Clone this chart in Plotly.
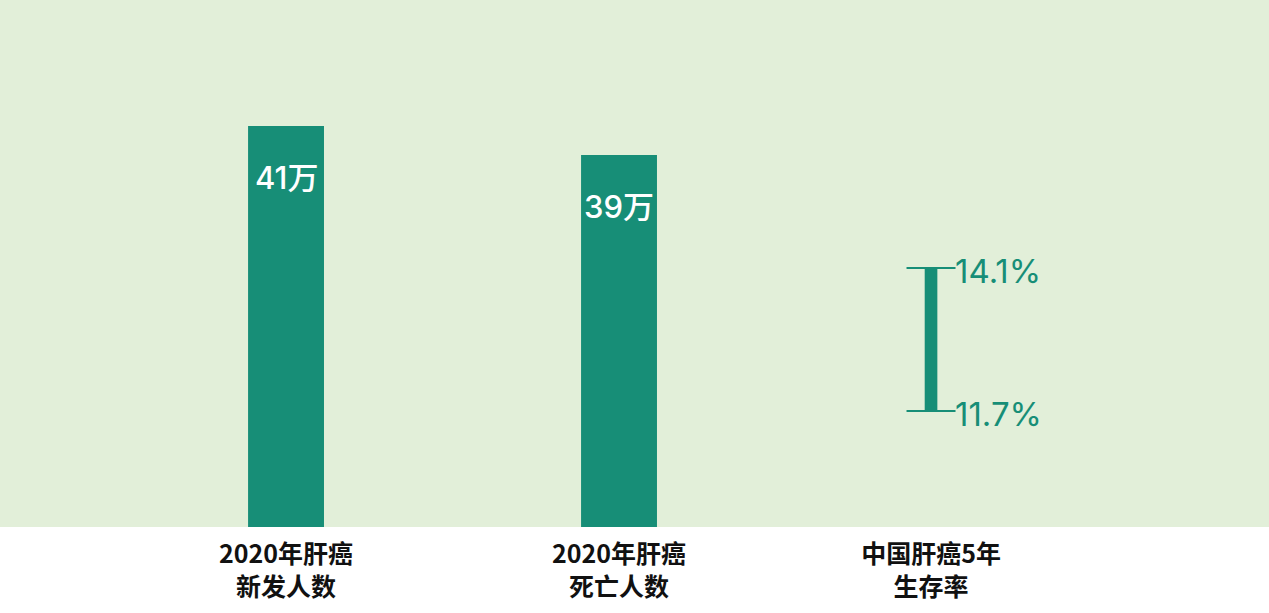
import plotly.graph_objects as go

# bar categories and values (万人)
categories = ["2020年肝癌<br>新发人数", "2020年肝癌<br>死亡人数"]
values = [41, 39]
value_labels = ["41万", "39万"]

# 5-year survival range (%)
survival_category = ["中国肝癌5年<br>生存率"]
survival_low = [11.7]
survival_high = [14.1]

GREEN = "#178e77"
BG = "#e2efd9"
FONT = "Noto Sans CJK SC"
NUM_FONT = "Inter, Noto Sans CJK SC"

fig = go.Figure()

# main bars
fig.add_trace(go.Bar(
    x=categories, y=values,
    marker=dict(color=GREEN, line=dict(width=0)),
    width=0.228,
    xaxis="x", yaxis="y",
    hoverinfo="skip",
))

for cat, val, lab in zip(categories, values, value_labels):
    fig.add_annotation(
        x=cat, y=val, xref="x", yref="y", text=lab, showarrow=False,
        yshift=-52, font=dict(family=NUM_FONT, size=31, color="white", weight=500),
    )

# survival range: thick bar from low to high
fig.add_trace(go.Bar(
    x=survival_category,
    y=[h - l for h, l in zip(survival_high, survival_low)],
    base=survival_low,
    marker=dict(color=GREEN, line=dict(width=0)),
    width=0.038,
    xaxis="x2", yaxis="y2",
    hoverinfo="skip",
))

# caps at both ends
cap_y = survival_high + survival_low
fig.add_trace(go.Scatter(
    x=survival_category * 2, y=cap_y,
    mode="markers",
    marker=dict(symbol="line-ew", size=35, line=dict(color=GREEN, width=2)),
    xaxis="x2", yaxis="y2",
    hoverinfo="skip",
))

for v in cap_y:
    fig.add_annotation(
        x=survival_category[0], y=v, xref="x2", yref="y2", text=f"{v}%",
        showarrow=False, xanchor="left", xshift=22, yshift=-3,
        font=dict(family=NUM_FONT, size=33, color=GREEN, weight=400),
    )

tick_font = dict(family=FONT, size=25, color="#111111", weight="bold")

fig.update_layout(
    width=1269, height=613,
    margin=dict(l=0, r=0, t=0, b=86),
    paper_bgcolor="white",
    plot_bgcolor=BG,
    showlegend=False,
    font=dict(family=FONT, size=24, color="black"),
    xaxis=dict(
        type="category", range=[-0.859, 2.952],
        showgrid=False, zeroline=False, showline=False, ticks="",
        tickfont=tick_font, ticklabelstandoff=10,
    ),
    xaxis2=dict(
        type="category", overlaying="x", range=[-2.796, 1.015],
        showgrid=False, zeroline=False, showline=False, ticks="",
        side="bottom", tickfont=tick_font, ticklabelstandoff=10,
    ),
    yaxis=dict(range=[13.3, 49.7], visible=False, showgrid=False, zeroline=False),
    yaxis2=dict(range=[9.75, 18.6], overlaying="y", visible=False,
                showgrid=False, zeroline=False),
)

# drop the default page margin so the figure sits at the window corner
fig.write_html("out.html", config={"displayModeBar": False},
               post_script="document.body.style.margin='0';")
